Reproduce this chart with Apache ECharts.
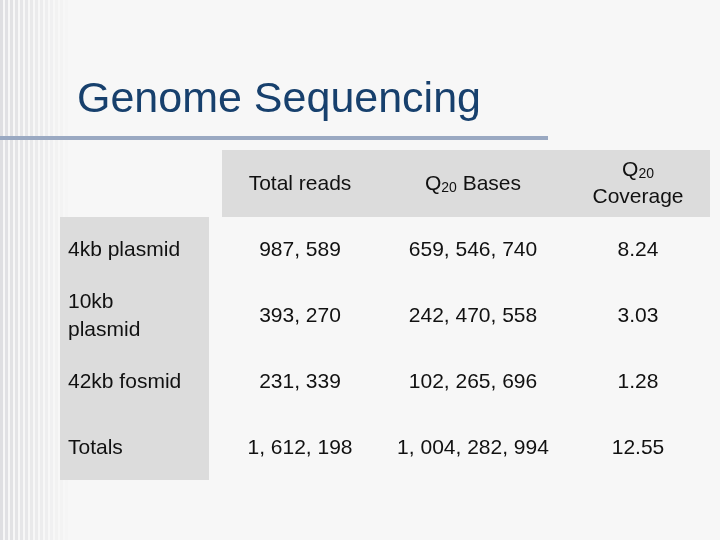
<!DOCTYPE html>
<html><head><meta charset="utf-8">
<script src="https://cdn.jsdelivr.net/npm/echarts@6/dist/echarts.min.js"></script>
<style>html,body{margin:0;padding:0;background:#fff}#c{width:720px;height:540px}</style>
</head><body><div id="c"></div>
<script>
const title = "Genome Sequencing";
const headers = ["Total reads", "{n|Q}{s|20}{n| Bases}", "{n|Q}{s|20}\n{n|Coverage}"];
const rowLabels = ["4kb plasmid", "10kb\nplasmid", "42kb fosmid", "Totals"];
const totalReads = ["987,589", "393,270", "231,339", "1,612,198"];
const q20Bases = ["659,546,740", "242,470,558", "102,265,696", "1,004,282,994"];
const q20Coverage = ["8.24", "3.03", "1.28", "12.55"];

const chart = echarts.init(document.getElementById('c'));
const font = 'Liberation Sans, Arial, sans-serif';
const g = [];
g.push({type:'rect', shape:{x:0,y:0,width:720,height:540}, style:{fill:'#f7f7f7'}, z:0});
for (let i=0;i<14;i++){
  g.push({type:'rect', shape:{x:i*5,y:0,width:3,height:540}, style:{fill:'rgba(200,200,205,'+(0.5-i*0.035)+')'}, z:0});
}
g.push({type:'rect', shape:{x:0,y:136,width:548,height:4}, style:{fill:'#9aa9c2'}, z:1});
g.push({type:'text', x:77, y:100, style:{text:title, font:'43px '+font, fill:'#17406d', verticalAlign:'middle'}, z:2});
g.push({type:'rect', shape:{x:222,y:150,width:488,height:67}, style:{fill:'#dcdcdc'}, z:1});
g.push({type:'rect', shape:{x:60,y:217,width:149,height:263}, style:{fill:'#dcdcdc'}, z:1});
const colX = [300, 473, 638];
const rowY = [250, 316, 382, 448];
const rich = {n:{font:'21px '+font, fill:'#111'}, s:{font:'14px '+font, fill:'#111', padding:[8,0,0,0]}};
headers.forEach((h,i)=>g.push({type:'text', x:colX[i], y:184, style:{text:h, rich, font:'21px '+font, fill:'#111', align:'center', verticalAlign:'middle', lineHeight:27}, z:3}));
const cols = [totalReads, q20Bases, q20Coverage];
rowLabels.forEach((l,r)=>{
  g.push({type:'text', x:68, y:rowY[r], style:{text:l, font:'21px '+font, fill:'#111', verticalAlign:'middle', lineHeight:28}, z:3});
  cols.forEach((c,i)=>g.push({type:'text', x:colX[i], y:rowY[r], style:{text:c[r].replace(/,/g,', '), font:'21px '+font, fill:'#111', align:'center', verticalAlign:'middle'}, z:3}));
});
chart.setOption({animation:false, graphic:g});
</script></body></html>
